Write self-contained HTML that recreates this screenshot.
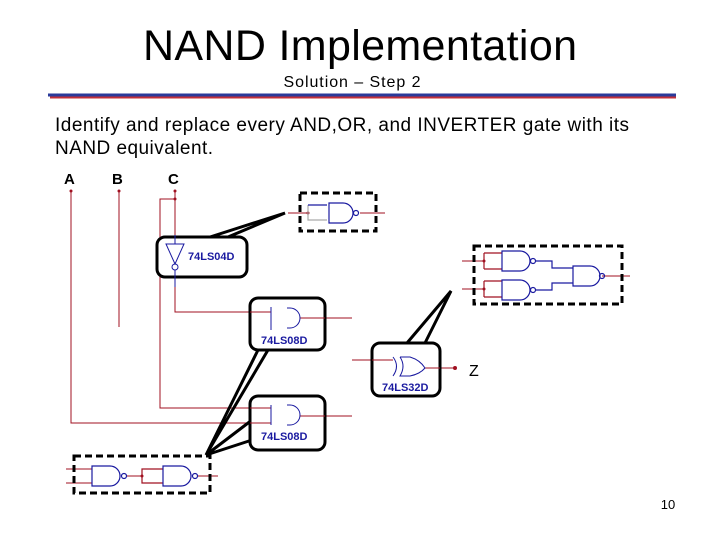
<!DOCTYPE html>
<html><head><style>
body{margin:0;background:#fff;}
svg{display:block;}
</style></head><body>
<svg width="720" height="540" xmlns="http://www.w3.org/2000/svg" font-family="Liberation Sans, sans-serif">
<rect width="720" height="540" fill="#fff"/>
<text x="360" y="60" font-size="43" text-anchor="middle" textLength="434">NAND Implementation</text>
<text x="352" y="87" font-size="16" text-anchor="middle" textLength="137">Solution – Step 2</text>
<line x1="48" y1="95" x2="676" y2="95" stroke="#2a3a9a" stroke-width="3"/>
<line x1="50" y1="97.5" x2="676" y2="97.5" stroke="#c0303a" stroke-width="2"/>
<text x="55" y="131" font-size="19" textLength="574">Identify and replace every AND,OR, and INVERTER gate with its</text>
<text x="55" y="154" font-size="19" textLength="158">NAND equivalent.</text>

<g font-weight="bold" font-size="15">
<text x="64" y="184">A</text><text x="112" y="184">B</text><text x="168" y="184">C</text>
</g>
<g stroke="#a01020" stroke-width="1" fill="none">
<polyline points="71,191 71,423 271,423"/>
<line x1="119" y1="191" x2="119" y2="327"/>
<line x1="175" y1="191" x2="175" y2="235"/>
<polyline points="175,199 160,199 160,408 271,408"/>
<polyline points="175,287 175,312 271,312"/>
<line x1="300" y1="318" x2="352" y2="318"/>
<line x1="300" y1="416" x2="352" y2="416"/>
<line x1="352" y1="360" x2="393" y2="360"/>
<line x1="425" y1="368" x2="455" y2="368"/>
<line x1="288" y1="213" x2="308" y2="213"/>
<line x1="360" y1="213" x2="385" y2="213"/>
<line x1="462" y1="261" x2="484" y2="261"/><line x1="462" y1="289" x2="484" y2="289"/>
<line x1="602" y1="276" x2="630" y2="276"/>
<line x1="66" y1="469" x2="92" y2="469"/><line x1="66" y1="483" x2="92" y2="483"/>
<line x1="127" y1="476" x2="142" y2="476"/>
<line x1="198" y1="476" x2="218" y2="476"/>
</g>
<g fill="#a01020"><circle cx="71" cy="191" r="1.5"/><circle cx="119" cy="191" r="1.5"/><circle cx="175" cy="191" r="1.5"/><circle cx="175" cy="199" r="1.5"/><circle cx="455" cy="368" r="2"/><circle cx="308" cy="213" r="1.5"/><circle cx="484" cy="261" r="1.5"/><circle cx="484" cy="289" r="1.5"/><circle cx="142" cy="476" r="1.5"/></g>

<g fill="none" stroke="#000" stroke-width="3" stroke-linejoin="miter">
<polyline points="210,237 285,213 228,237"/>
<polyline points="407,343 451,291 425,343"/>
<polyline points="258,350 206,455 268,350"/>
<polyline points="252,420 206,455 252,440"/>
</g>
<g fill="#fff" stroke="#000" stroke-width="3">
<rect x="157" y="237" width="90" height="40" rx="8"/>
<rect x="250" y="298" width="75" height="52" rx="8"/>
<rect x="372" y="343" width="68" height="53" rx="8"/>
<rect x="250" y="396" width="75" height="54" rx="8"/>
</g>
<g fill="none" stroke="#a01020" stroke-width="1">
<line x1="250" y1="312" x2="271" y2="312"/><line x1="300" y1="318" x2="325" y2="318"/>
<line x1="250" y1="408" x2="271" y2="408"/><line x1="250" y1="423" x2="271" y2="423"/><line x1="300" y1="416" x2="325" y2="416"/>
<line x1="372" y1="360" x2="393" y2="360"/><line x1="425" y1="368" x2="440" y2="368"/>
</g>
<g fill="none" stroke="#1a1aa0" stroke-width="1">
<line x1="175" y1="235" x2="175" y2="244"/>
<polygon points="166,244 184,244 175,264"/>
<circle cx="175" cy="267" r="3"/>
<line x1="175" y1="270" x2="175" y2="287"/>
<line x1="271" y1="307" x2="271" y2="330"/>
<path d="M287,308 L290,308 A10,10 0 0 1 290,328 L287,328"/>
<line x1="271" y1="405" x2="271" y2="425"/>
<path d="M287,405 L290,405 A10,10 0 0 1 290,425 L287,425"/>
<path d="M393,357 Q400,366 393,376"/>
<path d="M400,357 L410,357 Q420,360 425,368 Q420,374 410,376 L400,376 Q406,366 400,357"/>
</g>
<g fill="#1a1aa0" font-size="11" font-weight="bold">
<text x="188" y="260">74LS04D</text>
<text x="261" y="344">74LS08D</text>
<text x="382" y="391">74LS32D</text>
<text x="261" y="440">74LS08D</text>
</g>
<text x="469" y="376" font-size="16">Z</text>

<g fill="none" stroke="#000" stroke-width="3" stroke-dasharray="7,4">
<rect x="300" y="193" width="76" height="38"/>
<rect x="474" y="246" width="148" height="58"/>
<rect x="74" y="456" width="136" height="37"/>
</g>
<g fill="none" stroke="#1a1aa0" stroke-width="1.2">
<polyline points="308,205 308,220 327,220" stroke="#aaa"/>
<line x1="308" y1="205" x2="327" y2="205"/>
<path d="M329,203 L343,203 A10,10 0 0 1 343,223 L329,223 Z"/><circle cx="356" cy="213" r="2.5"/>
<polyline points="484,253 502,253" stroke="#a01020"/><polyline points="484,269 502,269" stroke="#a01020"/>
<line x1="484" y1="253" x2="484" y2="269" stroke="#a01020"/>
<path d="M502,251 L520,251 A10,10 0 0 1 520,271 L502,271 Z"/><circle cx="533" cy="261" r="2.5"/>
<polyline points="484,281 502,281" stroke="#a01020"/><polyline points="484,297 502,297" stroke="#a01020"/>
<line x1="484" y1="281" x2="484" y2="297" stroke="#a01020"/>
<path d="M502,280 L520,280 A10,10 0 0 1 520,300 L502,300 Z"/><circle cx="533" cy="290" r="2.5"/>
<polyline points="536,261 552,261 552,268 573,268"/><polyline points="536,290 552,290 552,283 573,283"/>
<path d="M573,266 L590,266 A10,10 0 0 1 590,286 L573,286 Z"/><circle cx="602" cy="276" r="2.5"/>
<path d="M92,466 L110,466 A10,10 0 0 1 110,486 L92,486 Z"/><circle cx="124" cy="476" r="2.5"/>
<polyline points="163,469 142,469 142,483 163,483" stroke="#a01020"/>
<path d="M163,466 L181,466 A10,10 0 0 1 181,486 L163,486 Z"/><circle cx="195" cy="476" r="2.5"/>
</g>
<text x="668" y="509" font-size="13" text-anchor="middle">10</text>
</svg>
</body></html>
